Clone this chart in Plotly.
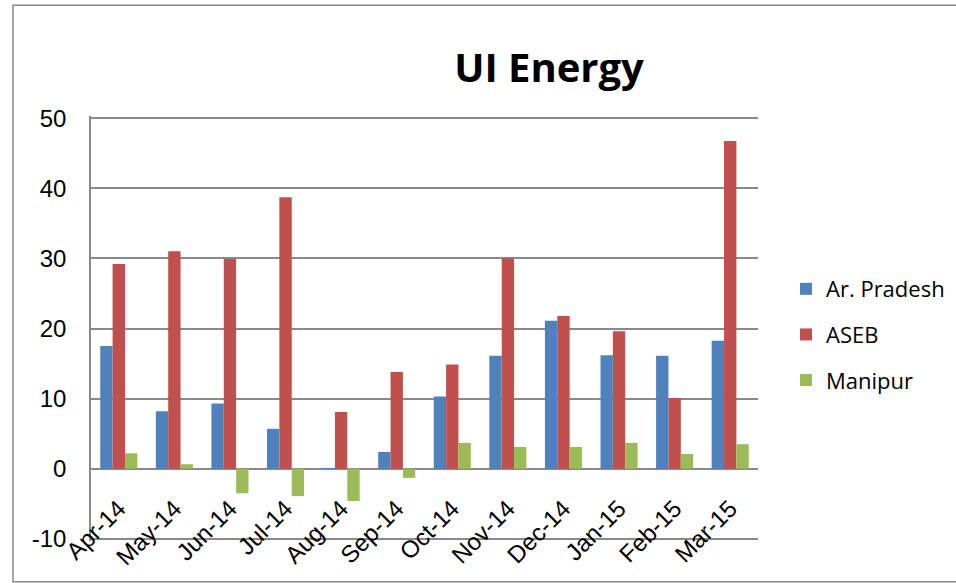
import plotly.graph_objects as go

months = ["Apr-14", "May-14", "Jun-14", "Jul-14", "Aug-14", "Sep-14",
          "Oct-14", "Nov-14", "Dec-14", "Jan-15", "Feb-15", "Mar-15"]
ar_pradesh = [17.5, 8.2, 9.3, 5.7, 0.05, 2.4, 10.3, 16.1, 21.1, 16.2, 16.1, 18.25]
aseb = [29.2, 31.0, 29.9, 38.7, 8.1, 13.8, 14.85, 30.0, 21.8, 19.6, 10.1, 46.75]
manipur = [2.2, 0.65, -3.5, -3.9, -4.6, -1.3, 3.7, 3.1, 3.1, 3.7, 2.1, 3.5]
y_ticks = [-10, 0, 10, 20, 30, 40, 50]
y_ticktext = ["-10", "0", "10", "20", "30", "40", "50"]

series = [("Ar. Pradesh", ar_pradesh, "#4F81BD"),
          ("ASEB", aseb, "#C0504D"),
          ("Manipur", manipur, "#9BBB59")]

W, H = 956, 583
PAD = 0.3                      # small range padding so edge gridlines are drawn
ymin, ymax = -10 - PAD, 50 + PAD
pxu = (539 - 118) / 60.0       # pixels per unit
L, R = 91, W - 758
T = 118 - PAD * pxu
B = H - (539 + PAD * pxu)
pw, ph = W - L - R, H - T - B

fig = go.Figure()
for i, (name, vals, col) in enumerate(series):
    fig.add_trace(go.Bar(x=months, y=vals, name=name, marker_color=col,
                         marker_line_width=0, legendgroup=str(i)))

grid = "#898989"
zero_pos = (0 - ymin) / (ymax - ymin)
fig.update_layout(
    width=W, height=H,
    margin=dict(l=L, r=R, t=T, b=B, autoexpand=False),
    paper_bgcolor="white", plot_bgcolor="white",
    barmode="group", bargap=0.333, bargroupgap=0,
    title=dict(text="<b>UI Energy</b>", x=(549 - L) / pw, xref="paper", xanchor="center",
               y=1 - 68 / H, yref="container", yanchor="middle",
               font=dict(family="Open Sans", size=40, color="black")),
    legend=dict(x=(786 - L) / pw, xanchor="left", y=(H - B - 268) / ph, yanchor="top",
                font=dict(family="Open Sans", size=22, color="black"),
                tracegroupgap=14, traceorder="grouped", bgcolor="rgba(0,0,0,0)"),
    showlegend=True,
    xaxis=dict(anchor="free", position=zero_pos, showline=False, showgrid=False,
               ticks="", tickangle=-45, ticklabelstandoff=20,
               tickfont=dict(family="Liberation Sans", size=24, color="black")),
    yaxis=dict(range=[ymin, ymax], tickvals=y_ticks, ticktext=y_ticktext, showgrid=True,
               gridcolor=grid, gridwidth=1.5, zeroline=True, zerolinecolor=grid,
               zerolinewidth=1.5, showline=True, linecolor=grid, linewidth=1.5,
               ticks="", ticklen=0, ticklabelstandoff=18,
               tickfont=dict(family="Liberation Sans", size=24, color="black")),
    shapes=[dict(type="rect", xref="paper", yref="paper",
                 x0=(13 - L) / pw, x1=(965 - L) / pw,
                 y0=(H - B - 582) / ph, y1=(H - B - 5) / ph,
                 line=dict(color="#888888", width=1.5), layer="below")],
)

fig.write_html("out.html", config={"displayModeBar": False},
               post_script="document.body.style.margin='0';document.body.style.overflow='hidden';")
